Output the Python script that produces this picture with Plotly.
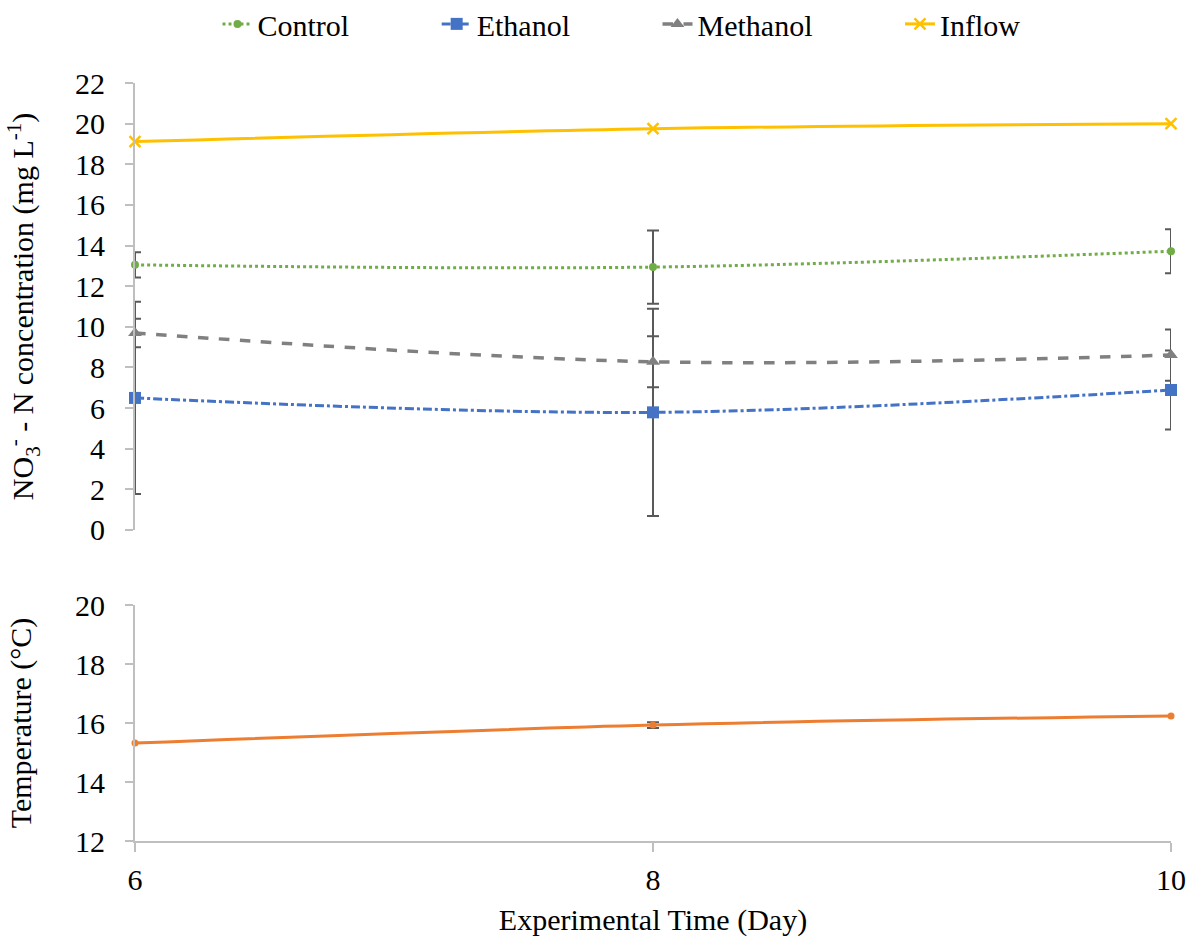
import plotly.graph_objects as go
from plotly.subplots import make_subplots

# Sampling days
days = [6, 8, 10]

# Nitrate-N concentration (mg/L) and standard deviations
control = [13.05, 12.94, 13.72]
control_sd = [0.62, 1.8, 1.08]
ethanol = [6.5, 5.79, 6.89]
ethanol_sd = [4.73, 5.1, 1.94]
methanol = [9.7, 8.28, 8.61]
methanol_sd = [0.7, 1.26, 1.26]
inflow = [19.12, 19.75, 20.0]

# Water temperature (°C)
temperature = [15.32, 15.93, 16.24]
temperature_sd = [0.0, 0.1, 0.0]

FONT = "Liberation Serif"
AXIS_GRAY = "#BFBFBF"
ERR_GRAY = "#595959"
PAD = "\u00a0" * 11  # spacing between legend entries

fig = make_subplots(rows=2, cols=1, shared_xaxes=True)


def err(vals):
    return dict(type="data", array=vals, visible=True, color=ERR_GRAY,
                thickness=2, width=6)


fig.add_trace(go.Scatter(
    x=days, y=control, name="Control" + PAD, mode="lines+markers",
    line=dict(color="#70AD47", width=3, dash="dot", shape="spline"),
    marker=dict(symbol="circle", size=8, color="#70AD47"),
    error_y=err(control_sd), cliponaxis=False), row=1, col=1)

fig.add_trace(go.Scatter(
    x=days, y=ethanol, name="Ethanol" + PAD, mode="lines+markers",
    line=dict(color="#4472C4", width=3, dash="dashdot", shape="spline"),
    marker=dict(symbol="square", size=12, color="#4472C4"),
    error_y=err(ethanol_sd), cliponaxis=False), row=1, col=1)

fig.add_trace(go.Scatter(
    x=days, y=methanol, name="Methanol" + PAD, mode="lines+markers",
    line=dict(color="#808080", width=3.5, dash="dash", shape="spline"),
    marker=dict(symbol="triangle-up", size=12, color="#808080"),
    error_y=err(methanol_sd), cliponaxis=False), row=1, col=1)

fig.add_trace(go.Scatter(
    x=days, y=inflow, name="Inflow", mode="lines+markers",
    line=dict(color="#FFC000", width=3, shape="spline"),
    marker=dict(symbol="x-thin-open", size=11, color="#FFC000",
                line=dict(color="#FFC000", width=2.5)),
    cliponaxis=False), row=1, col=1)

fig.add_trace(go.Scatter(
    x=days, y=temperature, name="Temperature", mode="lines+markers",
    line=dict(color="#ED7D31", width=3, shape="spline"),
    marker=dict(symbol="circle", size=7, color="#ED7D31"),
    error_y=err(temperature_sd), showlegend=False, cliponaxis=False),
    row=2, col=1)

tick_font = dict(family=FONT, size=30, color="black")
title_font = dict(family=FONT, size=30, color="black")

fig.update_layout(
    width=1197, height=941,
    margin=dict(l=135, r=26, t=83, b=100, autoexpand=False),
    paper_bgcolor="white", plot_bgcolor="white",
    font=dict(family=FONT, size=30, color="black"),
    legend=dict(orientation="h", x=0.4696, xanchor="center", y=1.078,
                yanchor="middle", font=dict(family=FONT, size=30),
                tracegroupgap=0),
    showlegend=True,
)

fig.update_xaxes(range=[6, 10], showgrid=False, zeroline=False,
                 tickvals=days, tickfont=tick_font)
fig.update_xaxes(row=1, col=1, showline=False, ticks="",
                 showticklabels=False)
fig.update_xaxes(row=2, col=1, showline=True, linecolor=AXIS_GRAY,
                 linewidth=2, ticks="outside", ticklen=9,
                 tickcolor=AXIS_GRAY, tickwidth=2, ticklabelstandoff=2,
                 title=dict(text="Experimental Time (Day)",
                            font=title_font, standoff=14))

yaxis_common = dict(showgrid=False, zeroline=False, showline=True,
                    linecolor=AXIS_GRAY, linewidth=2, ticks="outside",
                    ticklen=8, tickcolor=AXIS_GRAY, tickwidth=2,
                    tickfont=tick_font, ticklabelstandoff=14, dtick=2)

fig.update_yaxes(row=1, col=1, domain=[0.4103, 1.0], range=[0, 22],
                 title=dict(text="NO<sub>3</sub><sup>-</sup> - N concentration (mg L<sup>-1</sup>)",
                            font=title_font, standoff=32),
                 **yaxis_common)
fig.update_yaxes(row=2, col=1, domain=[0.0, 0.3113], range=[12, 20],
                 title=dict(text="Temperature (°C)",
                            font=title_font, standoff=34),
                 **yaxis_common)

fig.write_html("out.html")
